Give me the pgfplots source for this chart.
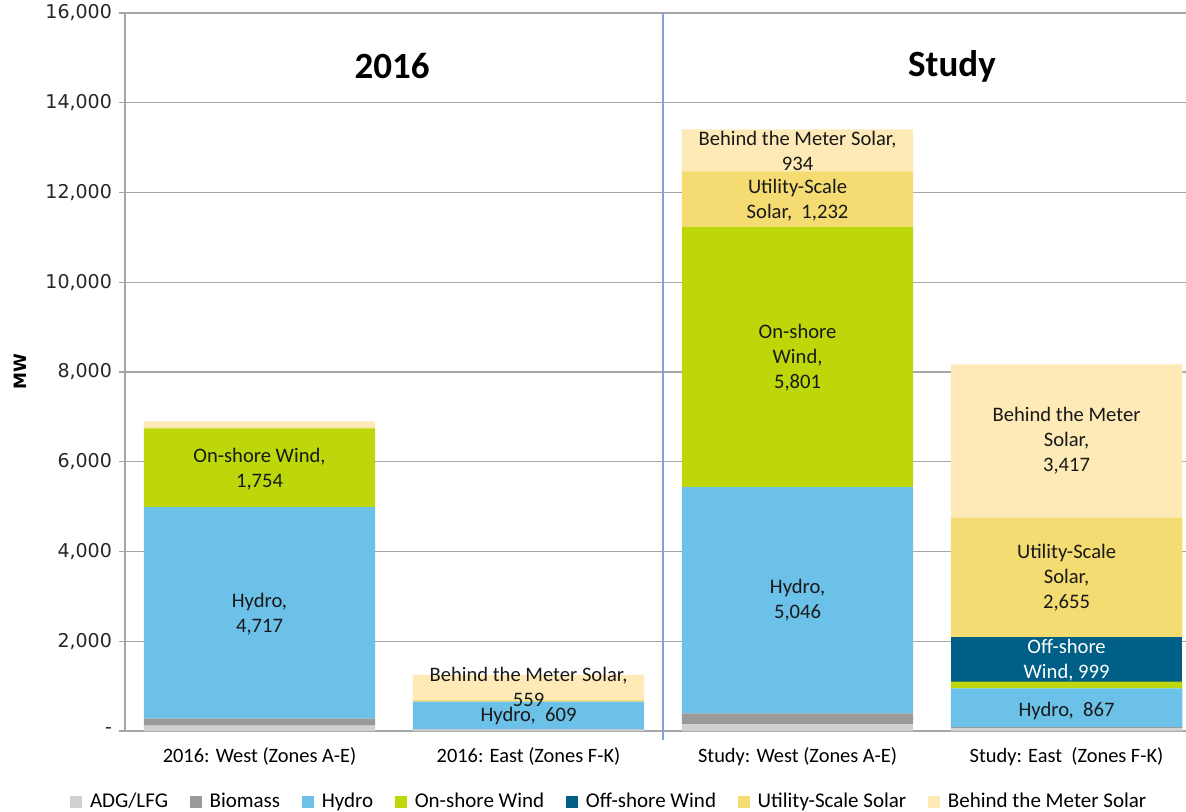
\documentclass[border=0pt]{standalone}
\usepackage{pgfplots}
\pgfplotsset{compat=1.18}
\usepackage{fontspec}
\setmainfont{Carlito}
\newfontfamily\dejavu{DejaVu Sans}
\definecolor{cADG}{HTML}{D0D0D0}
\definecolor{cBio}{HTML}{9A9A9A}
\definecolor{cHyd}{HTML}{6BC1E8}
\definecolor{cOn}{HTML}{BDD70A}
\definecolor{cOff}{HTML}{005F86}
\definecolor{cUtil}{HTML}{F4DB72}
\definecolor{cBTM}{HTML}{FDEAB6}
\definecolor{gridc}{HTML}{A6A6A6}
\definecolor{divc}{HTML}{7EA3D8}
\begin{document}
\begin{tikzpicture}
\path[use as bounding box] (-62.5pt,-40.5pt) rectangle (530.5pt,365.5pt);
\begin{axis}[
  at={(0,0)}, anchor=south west,
  width=530.5pt, height=359pt, scale only axis,
  ybar stacked, bar width=0.86, bar shift=0pt,
  xmin=-0.5, xmax=3.444, ymin=0, ymax=16000,
  clip=false,
  axis lines*=left,
  axis line style={-, draw=gridc, line width=0.6pt},
  ymajorgrids, grid style={draw=gridc, line width=0.6pt},
  ytick={0,2000,4000,6000,8000,10000,12000,14000,16000},
  yticklabels={-,{2,000},{4,000},{6,000},{8,000},{10,000},{12,000},{14,000},{16,000}},
  yticklabel style={font=\dejavu\fontsize{9.5}{11}\selectfont, text=black!85},
  xtick={0,1,2,3},
  xticklabels={{2016: West (Zones A-E)},{2016: East (Zones F-K)},{Study: West (Zones A-E)},{Study: East\ \ (Zones F-K)}},
  xticklabel style={font=\fontsize{10.2}{12}\selectfont, text=black, yshift=-2pt},
  x tick style={draw=none},
  extra x ticks={0.5,1.5,2.5},
  extra x tick labels={},
  extra x tick style={tick style={draw=gridc, line width=0.6pt}, major tick length=5pt},
  tick align=outside,
  y tick style={draw=gridc, line width=0.6pt},
  major tick length=3pt,
  ylabel={\dejavu\bfseries\fontsize{8.5}{9}\selectfont MW},
  ylabel style={at={(axis description cs:-0.099,0.5)}, anchor=center},
  legend columns=7,
  legend style={draw=none, fill=none, at={(axis description cs:-0.0518,-0.099)}, anchor=west,
    font=\fontsize{10.5}{12}\selectfont, inner sep=0pt,
    /tikz/every odd column/.append style={column sep=1.8pt},
    /tikz/every even column/.append style={column sep=9pt}},
  legend image code/.code={\path[#1,draw=none] (0pt,-3pt) rectangle (6pt,3pt);},
]
\addplot[fill=cADG, draw=none] coordinates {(0,120) (1,30) (2,150) (3,60)};
\addplot[fill=cBio, draw=none] coordinates {(0,154) (1,14) (2,241) (3,24)};
\addplot[fill=cHyd, draw=none] coordinates {(0,4717) (1,609) (2,5046) (3,867)};
\addplot[fill=cOn, draw=none] coordinates {(0,1754) (1,0) (2,5801) (3,147)};
\addplot[fill=cOff, draw=none] coordinates {(0,0) (1,0) (2,0) (3,999)};
\addplot[fill=cUtil, draw=none] coordinates {(0,20) (1,36) (2,1232) (3,2655)};
\addplot[fill=cBTM, draw=none] coordinates {(0,135) (1,559) (2,934) (3,3417)};
\legend{ADG/LFG,Biomass,Hydro,On-shore Wind,Off-shore Wind,Utility-Scale Solar,Behind the Meter Solar}
\end{axis}
\begin{axis}[
  at={(0,0)}, anchor=south west,
  width=530.5pt, height=359pt, scale only axis,
  xmin=-0.5, xmax=3.444, ymin=0, ymax=16000,
  clip=false, hide axis,
]
\draw[divc, line width=0.7pt] (axis cs:1.5,-200) -- (axis cs:1.5,16000);
\tikzset{lbl/.style={align=center, font=\fontsize{10.3}{12.5}\selectfont, text=black!90, inner sep=0pt}}
\node[lbl] at (axis cs:0,5830) {On-shore Wind,\\1,754};
\node[lbl] at (axis cs:0,2600) {Hydro,\\4,717};
\node[lbl] at (axis cs:1,980) {Behind the Meter Solar,\\559};
\node[lbl] at (axis cs:1,330) {Hydro,\ \ 609};
\node[lbl] at (axis cs:2,12930) {Behind the Meter Solar,\\934};
\node[lbl] at (axis cs:2,11840) {Utility-Scale\\Solar,\ \ 1,232};
\node[lbl] at (axis cs:2,8330) {On-shore\\Wind,\\5,801};
\node[lbl] at (axis cs:2,2920) {Hydro,\\5,046};
\node[lbl] at (axis cs:3,6460) {Behind the Meter\\Solar,\\3,417};
\node[lbl] at (axis cs:3,3410) {Utility-Scale\\Solar,\\2,655};
\node[lbl, text=white] at (axis cs:3,1580) {Off-shore\\Wind,\ 999};
\node[lbl] at (axis cs:3,446) {Hydro,\ \ 867};
\node[font=\bfseries\fontsize{18.5}{20}\selectfont] at (axis cs:0.493,14820) {2016};
\node[font=\bfseries\fontsize{18.5}{20}\selectfont] at (axis cs:2.574,14820) {Study};
\end{axis}
\end{tikzpicture}
\end{document}
